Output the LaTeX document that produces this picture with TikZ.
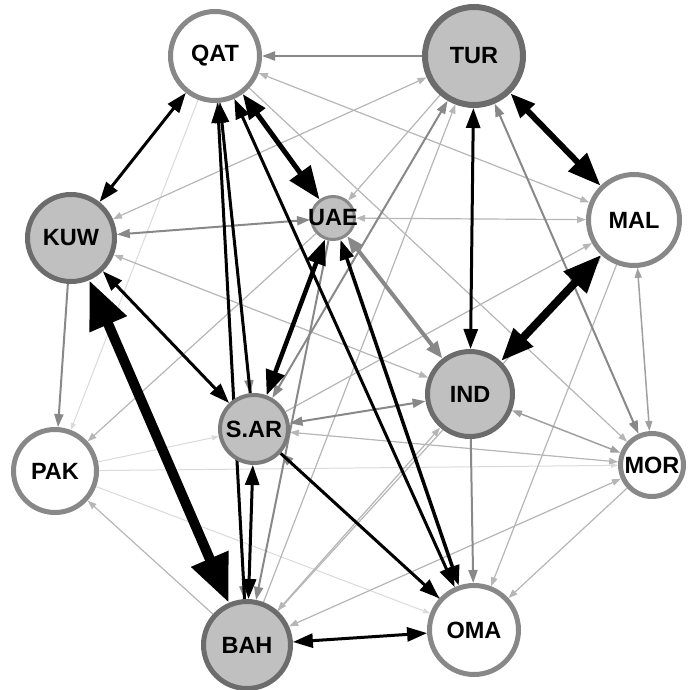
\documentclass[tikz,border=0pt]{standalone}
\usepackage{fontspec}
\setmainfont{Liberation Sans}
\usetikzlibrary{arrows.meta,backgrounds}
\definecolor{fillg}{RGB}{192,192,192}
\definecolor{bdark}{RGB}{108,108,108}
\definecolor{bmid}{RGB}{136,136,136}
\definecolor{gmid}{RGB}{136,136,136}
\definecolor{gml}{RGB}{160,160,160}
\definecolor{glight}{RGB}{182,182,182}
\definecolor{gfaint}{RGB}{218,218,218}
\begin{document}
\begin{tikzpicture}[x=1pt,y=-1pt,
  nd/.style={circle,inner sep=0pt,font=\fontsize{23.5}{23.5}\selectfont\bfseries},
  gn/.style={nd,fill=fillg,draw=bdark,line width=5pt},
  wn/.style={nd,fill=white,draw=bmid,line width=5pt},
  fe/.style={draw=gfaint,line width=1pt},
  le/.style={draw=glight,line width=1.2pt},
  ml/.style={draw=gml,line width=1.5pt},
  ge/.style={draw=gmid,line width=2pt},
  gt/.style={draw=gmid,line width=4pt},
  bk/.style={draw=black,line width=3pt},
  TF/.tip={Triangle[length=7pt,width=5pt]},
  TL/.tip={Triangle[length=9pt,width=6.5pt]},
  TM/.tip={Triangle[length=10pt,width=7pt]},
  TG/.tip={Triangle[length=13pt,width=9pt]},
  TH/.tip={Triangle[length=17pt,width=13pt]},
  TB/.tip={Triangle[length=20pt,width=14pt]},
  TC/.tip={Triangle[length=25pt,width=19pt]},
  TD/.tip={Triangle[length=33pt,width=25pt]},
  TE/.tip={Triangle[length=38pt,width=30pt]},
  TX/.tip={Triangle[length=48pt,width=38pt]}
]
\useasboundingbox (0,0) rectangle (688,690);
\node[wn,minimum size=89pt] (QAT) at (215,56) {\makebox[0pt]{QAT}};
\node[gn,line width=6pt,minimum size=98pt] (TUR) at (474,56) {\makebox[0pt]{TUR}};
\node[gn,minimum size=87pt] (KUW) at (71,238) {\makebox[0pt]{KUW}};
\node[gn,draw=bmid,line width=3pt,minimum size=43pt] (UAE) at (333,218) {\makebox[0pt]{UAE}};
\node[wn,minimum size=91pt] (MAL) at (634,220) {\makebox[0pt]{MAL}};
\node[gn,minimum size=85pt] (IND) at (470,394) {\makebox[0pt]{IND}};
\node[gn,draw=bdark!90,line width=4pt,minimum size=68pt] (SAR) at (254,429) {\makebox[0pt]{S.AR}};
\node[wn,minimum size=83pt] (PAK) at (55,471) {\makebox[0pt]{PAK}};
\node[wn,minimum size=63pt] (MOR) at (652,465) {\makebox[0pt]{MOR}};
\node[gn,minimum size=87pt] (BAH) at (247,645) {\makebox[0pt]{BAH}};
\node[wn,minimum size=89pt] (OMA) at (474,630) {\makebox[0pt]{OMA}};
\begin{scope}[on background layer]
% faint
\draw[fe,-{TF}] (QAT) -- (PAK);
\draw[fe,-{TF}] (PAK) -- (SAR);
\draw[fe,-{TF}] (PAK) -- (MOR);
\draw[fe,-{TF}] (PAK) -- (OMA);
% light
\draw[le,{TL}-{TL}] (TUR) -- (KUW);
\draw[le,{TL}-{TL}] (QAT) -- (MAL);
\draw[le,{TL}-{TL}] (UAE) -- (MAL);
\draw[le,-{TL}] (TUR) -- (UAE);
\draw[le,{TL}-{TL}] (KUW) -- (IND);
\draw[le,-{TL}] (UAE) -- (PAK);
\draw[le,-{TL}] (BAH) -- (PAK);
\draw[le,{TL}-{TL}] (BAH) -- (MOR);
\draw[le,{TL}-{TL}] (IND) -- (BAH);
\draw[le,-{TL}] (MAL) -- (OMA);
\draw[le,-{TL}] (MOR) -- (OMA);
\draw[le,-{TL}] (SAR) -- (MAL);
\draw[le,-{TL}] (BAH) -- (MAL);
\draw[le,-{TL}] (BAH) -- (TUR);
\draw[le,{TL}-{TL}] (SAR) -- (MOR);
\draw[le,-{TL}] (QAT) -- (MOR);
% medium light
\draw[ml,{TM}-{TM}] (IND) -- (MOR);
\draw[ml,{TM}-{TM}] (MAL) -- (MOR);
% gray medium
\draw[ge,-{TG}] (TUR) -- (QAT);
\draw[ge,{TG}-{TG}] (KUW) -- (UAE);
\draw[ge,{TG}-{TG}] (SAR) -- (IND);
\draw[ge,-{TG}] (KUW) -- (PAK);
\draw[ge,-{TG}] (IND) -- (OMA);
\draw[ge,{TG}-{TG}] (SAR) -- (TUR);
\draw[ge,{TG}-{TG}] (TUR) -- (MOR);
\draw[ge,-{TG}] (UAE) -- (BAH);
\draw[gt,{TH}-{TH}] (UAE) -- (IND);
\draw[ge,-{TG}] (QAT) -- (SAR);
\draw[ge,-{TG}] (QAT) -- (BAH);
\draw[ge,-{TG}] (OMA) -- (SAR);
% black
\draw[bk,{TB}-{TB}] (QAT) -- (KUW);
\draw[bk,-{TB}] (SAR) -- (QAT);
\draw[bk,-{TB}] (BAH) -- (QAT);
\draw[bk,{TB}-{TB}] (QAT) -- (OMA);
\draw[bk,line width=3.5pt,{TB}-{TB}] (UAE) -- (OMA);
\draw[bk,{TB}-{TB}] (TUR) -- (IND);
\draw[bk,{TB}-{TB}] (KUW) -- (SAR);
\draw[bk,{TB}-{TB}] (SAR) -- (BAH);
\draw[bk,-{TB}] (SAR) -- (OMA);
\draw[bk,{TB}-{TB}] (BAH) -- (OMA);
\draw[bk,line width=5pt,{TC}-{TD}] (QAT) -- (UAE);
\draw[bk,line width=4.5pt,{TC}-{TC}] (SAR) -- (UAE);
\draw[bk,line width=6pt,{TC}-{TD}] (TUR) -- (MAL);
\draw[bk,line width=8pt,{TD}-{TE}] (IND) -- (MAL);
\draw[bk,line width=10pt,{TX}-{TX}] (KUW) -- (BAH);
\end{scope}
\end{tikzpicture}
\end{document}
